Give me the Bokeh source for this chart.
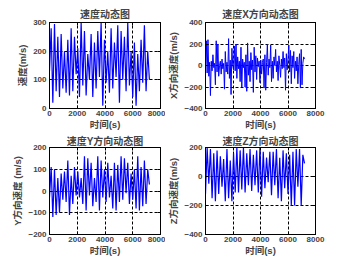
from bokeh.plotting import figure
from bokeh.layouts import column, row
from bokeh.models import FixedTicker, Range1d, LinearAxis
from bokeh.embed import file_html
from bokeh.resources import INLINE

t = [i * 120 for i in range(61)]
tx = [i * 60 for i in range(121)]

speed = [130, 280, 20, 295, 60, 250, 40, 260, 70, 200,
         55, 240, 45, 280, 60, 250, 120, 210, 40, 300,
         80, 270, 45, 190, 100, 260, 40, 230, 70, 270,
         110, 300, 10, 240, 90, 200, 55, 280, 70, 230,
         110, 290, 20, 270, 100, 250, 60, 300, 80, 200,
         40, 230, 10, 190, 60, 240, 90, 290, 60, 200, 100]

vx = [0, 230, -70, 240, -100, 30, -280, 40, -50, 100, -20, 20, -180, 230, -60, 200, -100, 0, 40, -80, 60,
      -30, 20, -220, 130, -60, 30, -80, 250, -120, 50, -270, 160, 0, -40, 180, -50, 200, -120, 80, -30,
      40, -150, 170, -200, 60, -20, 30, -200, 100, -240, 210, -90, 40, -150, 120, -40, 50, -250, 170, -60,
      90, -130, 70, -10, 40, -160, 50, -80, 30, 60, -210, 100, -230, 30, 200, -90, 60, -20, 190, -150,
      40, -120, 80, 0, 150, -60, 40, -140, 90, 0, -110, 60, -30, 130, -20, 70, -230, 110, -40, 60,
      190, -60, 140, -170, 90, -20, 130, -120, 40, -50, 80, -170, 10, 110, -210, 150, -180, 20, 80, 60]

vy = [-30, 110, -120, 100, -110, 60, -100, 80, -40, 90,
      -50, 140, -110, 70, -60, 110, -20, 90, -30, 60,
      -60, 160, -90, 150, -20, 130, -70, 60, -50, 160,
      -90, 140, -30, 100, -50, 130, -30, 70, -80, 130,
      -90, 120, -50, 160, -40, 150, -10, 130, -60, 80,
      -40, 100, -80, 160, -90, 110, -70, 140, -60, 100, 30]

vz = [-120, 200, -50, 190, -150, 160, -170, 180, -120, 140,
      -70, 120, -170, 190, -150, 110, -170, 160, -110, 200,
      -110, 180, -90, 200, -110, 160, -60, 190, -100, 150,
      -60, 180, -110, 200, -140, 170, -80, 130, -40, 170,
      -130, 170, -60, 190, -150, 130, -170, 180, -80, 160,
      -120, 150, -200, 170, -200, 190, -70, 190, -200, 150, 90]

titles = ["速度动态图", "速度X方向动态图", "速度Y方向动态图", "速度Z方向动态图"]
ylabels = ["速度(m/s)", "X方向速度(m/s)", "Y方向速度 (m/s)", "Z方向速度(m/s)"]
xlabel = "时间(s)"
xticks = [0, 2000, 4000, 6000, 8000]
yranges = [(0, 300), (-400, 400), (-200, 200), (-400, 200)]
yticks = [[0, 100, 200, 300], [-400, -200, 0, 200, 400], [-200, -100, 0, 100, 200], [-400, -200, 0, 200]]
series = [(t, speed), (tx, vx), (t, vy), (t, vz)]
widths = [1.2, 1.0, 1.2, 1.2]

FONT = "Liberation Sans, Noto Sans CJK SC"
NUMFONT = "Liberation Sans"

def style_axis(ax):
    ax.major_label_text_font = NUMFONT
    ax.major_label_text_font_size = "8px"
    ax.major_label_text_font_style = "bold"
    ax.major_tick_in = 3
    ax.major_tick_out = 0
    ax.minor_tick_line_color = None
    ax.axis_line_color = "black"
    ax.major_tick_line_color = "black"
    ax.major_label_standoff = 2
    ax.axis_label_text_font = FONT
    ax.axis_label_text_font_size = "9.5px"
    ax.axis_label_text_font_style = "bold"
    ax.axis_label_standoff = 0

def tick_only(ax, ticks):
    ax.major_label_overrides = {tk: "" for tk in ticks}
    ax.major_label_text_color = None
    ax.major_label_standoff = 0
    ax.major_tick_in = 3
    ax.major_tick_out = 0
    ax.minor_tick_line_color = None
    ax.axis_line_color = "black"

def make(i, w, h, left, right, top, bottom, tstand):
    y0, y1 = yranges[i]
    p = figure(width=w, height=h, output_backend="svg", toolbar_location=None,
               x_range=Range1d(0, 8000), y_range=Range1d(y0, y1),
               min_border_left=left, min_border_right=right,
               min_border_top=top, min_border_bottom=bottom,
               title=titles[i])
    p.title.text_font = FONT
    p.title.text_font_size = "10px"
    p.title.text_font_style = "bold"
    p.title.align = "center"
    p.title.standoff = tstand
    p.title.offset = 0
    xs, ys = series[i]
    p.line(xs, ys, line_color="#0000ff", line_width=widths[i])
    p.xaxis.ticker = FixedTicker(ticks=xticks)
    p.yaxis.ticker = FixedTicker(ticks=yticks[i])
    p.xaxis.axis_label = xlabel
    p.yaxis.axis_label = ylabels[i]
    style_axis(p.xaxis[0])
    style_axis(p.yaxis[0])
    p.yaxis.axis_label_standoff = 2
    p.yaxis.major_label_standoff = 3
    ax_top = LinearAxis(ticker=FixedTicker(ticks=xticks))
    ax_right = LinearAxis(ticker=FixedTicker(ticks=yticks[i]))
    tick_only(ax_top, xticks)
    tick_only(ax_right, yticks[i])
    p.add_layout(ax_top, "above")
    p.add_layout(ax_right, "right")
    for g in [p.xgrid[0], p.ygrid[0]]:
        g.grid_line_color = "black"
        g.grid_line_dash = "3 2"
        g.grid_line_width = 1
    p.xgrid.ticker = FixedTicker(ticks=xticks)
    p.ygrid.ticker = FixedTicker(ticks=yticks[i])
    p.outline_line_color = "black"
    p.outline_line_alpha = 1
    p.background_fill_color = "white"
    p.border_fill_color = "white"
    return p

p1 = make(0, 165, 132, 49, 5, 22, 24, 5)
p2 = make(1, 188, 132, 39, 38, 22, 24, 5)
p3 = make(2, 165, 133, 49, 5, 15, 31, 2)
p4 = make(3, 188, 133, 39, 38, 15, 31, 2)

lay = column(row(p1, p2), row(p3, p4))
open("out.html", "w").write(file_html(lay, INLINE))
